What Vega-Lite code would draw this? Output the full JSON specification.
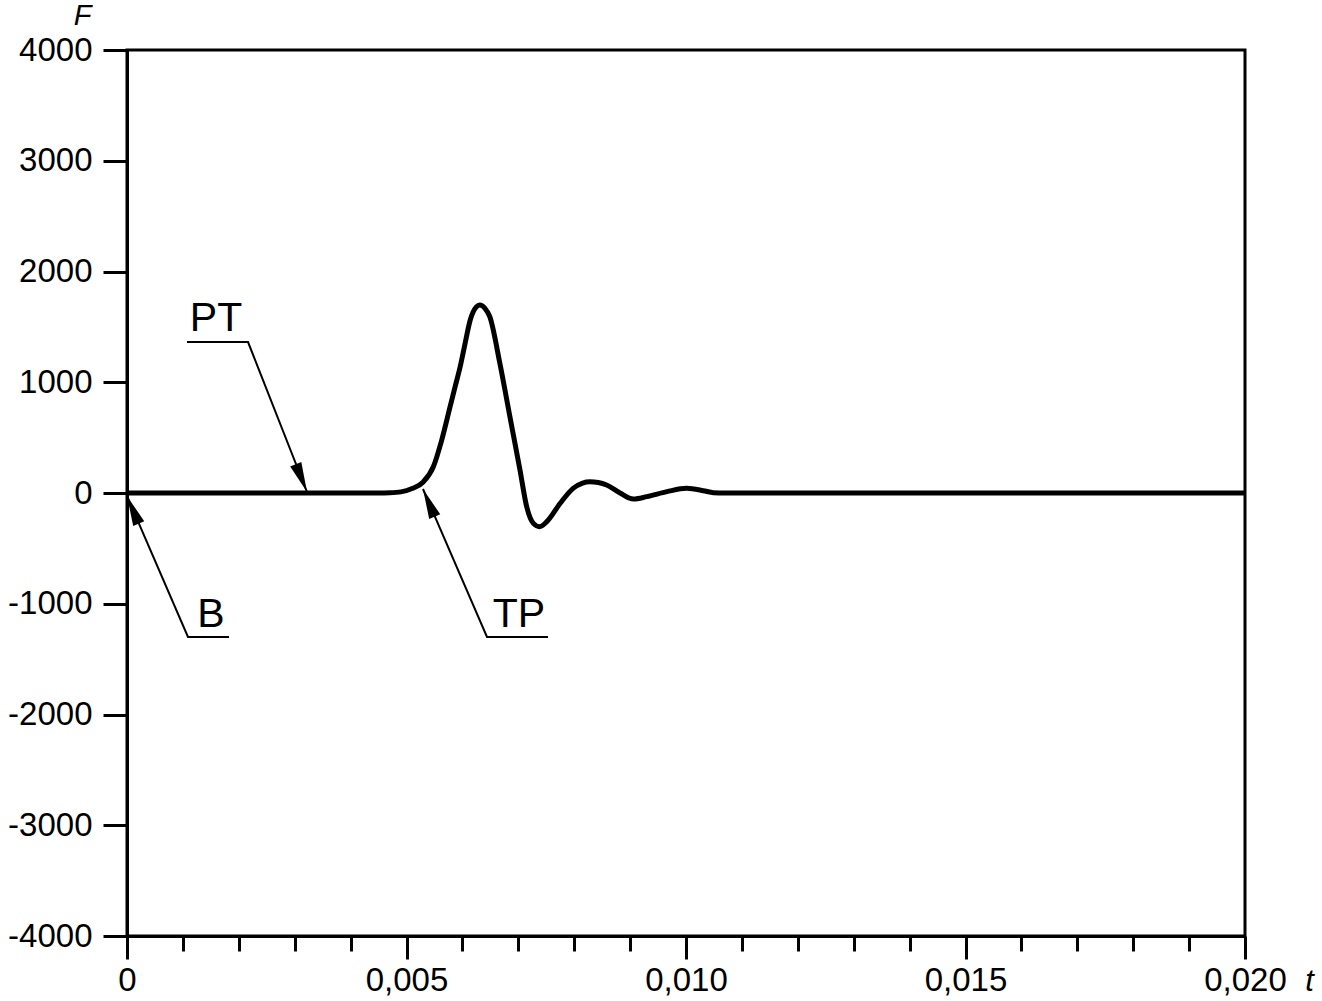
{
  "$schema": "https://vega.github.io/schema/vega-lite/v6.json",
  "width": 1118,
  "height": 886,
  "autosize": {"type": "none"},
  "padding": {"left": 127, "top": 50, "right": 77, "bottom": 65},
  "background": "white",
  "config": {
    "view": {"stroke": "black", "strokeWidth": 3},
    "font": "Liberation Sans"
  },
  "datasets": {
    "curve": [
      {"t": 0, "F": 0},
      {"t": 0.0045, "F": 0},
      {"t": 0.0047, "F": 2},
      {"t": 0.0049, "F": 10},
      {"t": 0.0051, "F": 40},
      {"t": 0.0053, "F": 100},
      {"t": 0.00548, "F": 237},
      {"t": 0.00563, "F": 478},
      {"t": 0.00578, "F": 779},
      {"t": 0.00587, "F": 960},
      {"t": 0.00596, "F": 1140},
      {"t": 0.00605, "F": 1355},
      {"t": 0.00614, "F": 1562},
      {"t": 0.00625, "F": 1680},
      {"t": 0.00631, "F": 1697},
      {"t": 0.0064, "F": 1670},
      {"t": 0.00649, "F": 1592},
      {"t": 0.00667, "F": 1171},
      {"t": 0.00685, "F": 689},
      {"t": 0.00703, "F": 208},
      {"t": 0.00715, "F": -124},
      {"t": 0.00727, "F": -274},
      {"t": 0.00738, "F": -304},
      {"t": 0.00751, "F": -259},
      {"t": 0.00775, "F": -93},
      {"t": 0.00798, "F": 42},
      {"t": 0.00815, "F": 90},
      {"t": 0.00828, "F": 102},
      {"t": 0.00843, "F": 95},
      {"t": 0.00858, "F": 72},
      {"t": 0.00882, "F": 0},
      {"t": 0.00906, "F": -54},
      {"t": 0.0093, "F": -33},
      {"t": 0.00966, "F": 12},
      {"t": 0.01001, "F": 42},
      {"t": 0.01031, "F": 21},
      {"t": 0.01049, "F": 3},
      {"t": 0.0107, "F": 0},
      {"t": 0.02, "F": 0}
    ],
    "leaders": [
      {"label": "PT", "seq": 1, "t": 0.001073, "F": 1363},
      {"label": "PT", "seq": 2, "t": 0.002165, "F": 1363},
      {"label": "PT", "seq": 3, "t": 0.00322, "F": 9},
      {"label": "B", "seq": 1, "t": 0.001825, "F": -1300},
      {"label": "B", "seq": 2, "t": 0.001091, "F": -1300},
      {"label": "B", "seq": 3, "t": 0.0, "F": -27},
      {"label": "TP", "seq": 1, "t": 0.007531, "F": -1300},
      {"label": "TP", "seq": 2, "t": 0.00644, "F": -1300},
      {"label": "TP", "seq": 3, "t": 0.005295, "F": 36}
    ],
    "labels": [
      {"label": "PT", "t": 0.001592, "F": 1463},
      {"label": "B", "t": 0.001503, "F": -1210},
      {"label": "TP", "t": 0.007013, "F": -1210}
    ]
  },
  "encoding": {
    "x": {
      "field": "t",
      "type": "quantitative",
      "scale": {"domain": [0, 0.02], "nice": false, "zero": false},
      "axis": {
        "values": [0, 0.001, 0.002, 0.003, 0.004, 0.005, 0.006, 0.007, 0.008, 0.009, 0.01, 0.011, 0.012, 0.013, 0.014, 0.015, 0.016, 0.017, 0.018, 0.019, 0.02],
        "labelExpr": "round(datum.value*1000) % 5 == 0 ? (datum.value == 0 ? '0' : replace(format(datum.value, '.3f'), '.', ',')) : ''",
        "labelFontSize": 33,
        "labelColor": "black",
        "labelFlush": false,
        "labelOverlap": false,
        "labelPadding": 5,
        "tickSize": {"condition": {"test": "round(datum.value*1000) % 5 == 0", "value": 23}, "value": 15},
        "tickWidth": 3,
        "tickColor": "black",
        "domainColor": "black",
        "domainWidth": 3,
        "grid": false,
        "title": "t",
        "titleFontStyle": "italic",
        "titleFontWeight": "normal",
        "titleFontSize": 31,
        "titleColor": "black",
        "titleAngle": 0,
        "titleAlign": "center",
        "titleBaseline": "alphabetic",
        "titleX": 1182,
        "titleY": 54
      }
    },
    "y": {
      "field": "F",
      "type": "quantitative",
      "scale": {"domain": [-4000, 4000], "nice": false},
      "axis": {
        "values": [-4000, -3000, -2000, -1000, 0, 1000, 2000, 3000, 4000],
        "labelExpr": "'' + datum.value",
        "labelFontSize": 33,
        "labelColor": "black",
        "labelPadding": 11,
        "labelFlush": false,
        "labelOverlap": false,
        "tickSize": 24,
        "tickWidth": 3,
        "tickColor": "black",
        "domainColor": "black",
        "domainWidth": 3,
        "grid": false,
        "title": "F",
        "titleFontStyle": "italic",
        "titleFontWeight": "normal",
        "titleFontSize": 29,
        "titleColor": "black",
        "titleAngle": 0,
        "titleAlign": "center",
        "titleBaseline": "alphabetic",
        "titleX": -45,
        "titleY": -26
      }
    }
  },
  "layer": [
    {
      "data": {"name": "curve"},
      "mark": {"type": "line", "color": "black", "strokeWidth": 5, "interpolate": "monotone"}
    },
    {
      "data": {"name": "leaders"},
      "mark": {"type": "line", "color": "black", "strokeWidth": 2},
      "encoding": {
        "detail": {"field": "label"},
        "order": {"field": "seq", "type": "quantitative"}
      }
    },
    {
      "data": {"name": "leaders"},
      "transform": [{"filter": "datum.seq == 3 && datum.label == 'PT'"}],
      "mark": {"type": "point", "shape": "M0,0L-0.4,2L0.4,2Z", "filled": true, "color": "black", "opacity": 1, "size": 900, "angle": 158}
    },
    {
      "data": {"name": "leaders"},
      "transform": [{"filter": "datum.seq == 3 && datum.label != 'PT'"}],
      "mark": {"type": "point", "shape": "M0,0L-0.4,2L0.4,2Z", "filled": true, "color": "black", "opacity": 1, "size": 900, "angle": 337}
    },
    {
      "data": {"name": "labels"},
      "mark": {"type": "text", "color": "black", "fontSize": 41, "align": "center", "baseline": "alphabetic", "font": "Liberation Sans"},
      "encoding": {"text": {"field": "label"}}
    }
  ]
}
